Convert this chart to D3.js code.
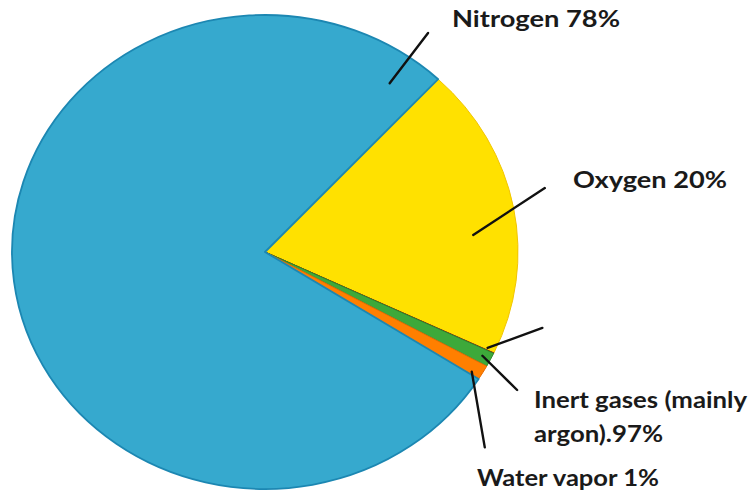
<!DOCTYPE html>
<html>
<head>
<meta charset="utf-8">
<script src="https://cdn.jsdelivr.net/npm/d3@7"></script>
<style>
  html, body { margin: 0; padding: 0; background: #fff; }
  svg { display: block; }
</style>
</head>
<body>
<svg id="chart" width="753" height="495"></svg>
<script>
// ---- data ----
const categories = ["Oxygen", "Other trace gases", "Inert gases (mainly argon)", "Water vapor", "Nitrogen"];
const values = [20, 0.03, 0.97, 1, 78];
const colors = ["#FFE100", "#B8231B", "#3DA93A", "#FF7F00", "#36A9CE"];
const strokes = ["#F2C500", "#8E1A12", "#2E8A2C", "#E86A00", "#1C87B2"];
const labelLines = [["Nitrogen 78%"], ["Oxygen 20%"], ["Inert gases (mainly", "argon).97%"], ["Water vapor 1%"]];

// ---- layout ----
const W = 753, H = 495;
const cx = 265, cy = 252, rx = 253, ry = 237;
const k = ry / rx;
const startDeg = 43.2;

const svg = d3.select("#chart");

const pie = d3.pie().sort(null).value(d => d)
  .startAngle(startDeg * Math.PI / 180)
  .endAngle(startDeg * Math.PI / 180 + 2 * Math.PI);
const arcs = pie(values);
const arc = d3.arc().innerRadius(0).outerRadius(rx);

const g = svg.append("g").attr("transform", `translate(${cx},${cy}) scale(1,${k})`);
// draw nitrogen last so its edge sits on top
const order = [0, 1, 2, 3, 4];
g.selectAll("path.slice").data(order.map(i => ({ a: arcs[i], i }))).join("path")
  .attr("class", "slice")
  .attr("d", d => arc(d.a))
  .attr("fill", d => colors[d.i])
  .attr("stroke", d => strokes[d.i])
  .attr("stroke-width", d => d.i === 4 ? 1.8 : 1)
  .attr("stroke-linejoin", "round")
  .attr("vector-effect", "non-scaling-stroke");

// polar helper (degrees clockwise from 12 o'clock, radius in x-units)
function toXY(deg, r) {
  const a = deg * Math.PI / 180;
  return [cx + r * Math.sin(a), cy - r * Math.cos(a) * k];
}

// leader lines: [startAngle, startR, endAngle, endR]
const leaders = [
  [34.7, 219, 34.9, 285],
  [85, 209, 76.3, 288],
  [114.7, 245, 106.3, 289],
  [117, 244, 120.3, 292],
  [121.7, 243, 133.5, 303]
];
svg.append("g").selectAll("line").data(leaders).join("line")
  .attr("x1", d => toXY(d[0], d[1])[0])
  .attr("y1", d => toXY(d[0], d[1])[1])
  .attr("x2", d => toXY(d[2], d[3])[0])
  .attr("y2", d => toXY(d[2], d[3])[1])
  .attr("stroke", "#111")
  .attr("stroke-width", 2.4)
  .attr("stroke-linecap", "round");

// labels: position of each text block (left x, first baseline) and line widths
const labelPos = [
  { x: 452, y: 27, w: [168] },
  { x: 573, y: 188, w: [154] },
  { x: 534, y: 408, w: [213, 129], lh: 34 },
  { x: 477, y: 486, w: [182] }
];
const lg = svg.append("g")
  .attr("font-family", "Lato, 'Open Sans', sans-serif")
  .attr("font-weight", "bold")
  .attr("font-size", 23)
  .attr("fill", "#1a1a1a");
labelLines.forEach((lines, i) => {
  const p = labelPos[i];
  lines.forEach((t, j) => {
    lg.append("text")
      .attr("x", p.x)
      .attr("y", p.y + j * (p.lh || 0))
      .attr("textLength", p.w[j])
      .attr("lengthAdjust", "spacingAndGlyphs")
      .text(t);
  });
});
</script>
</body>
</html>
